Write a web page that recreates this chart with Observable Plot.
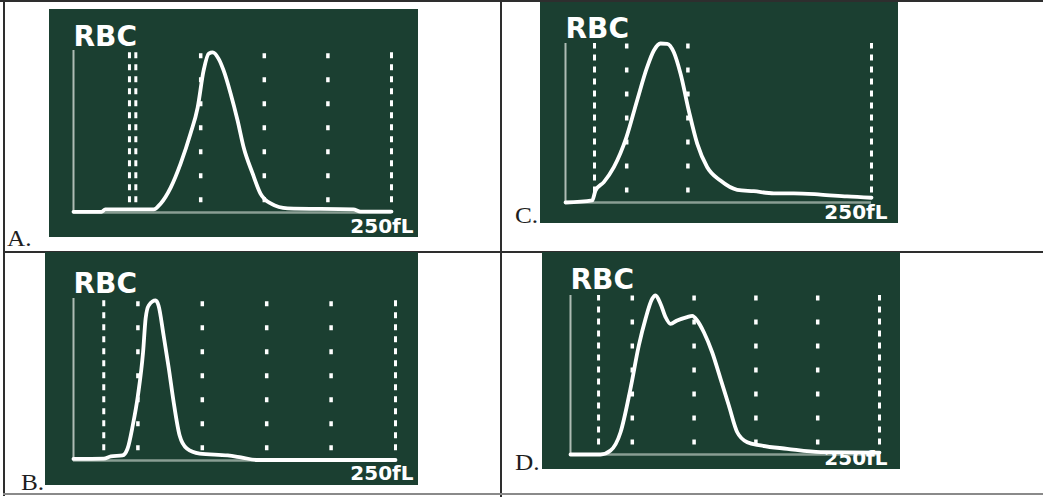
<!DOCTYPE html>
<html><head><meta charset="utf-8">
<script src="https://cdn.jsdelivr.net/npm/d3@7"></script>
<script src="https://cdn.jsdelivr.net/npm/@observablehq/plot@0.6"></script>
<style>
html,body{margin:0;padding:0;background:#fff;}
#page{position:relative;width:1043px;height:497px;overflow:hidden;background:#fff;}
.ln{position:absolute;background:#2e2e2e;}
.lab{position:absolute;font-family:"Liberation Serif","Times New Roman",serif;font-size:23px;color:#1e1e1e;line-height:23px;white-space:nowrap;transform-origin:left top;transform:scaleX(1.1);}
.panel{position:absolute;}
.panel svg{display:block;}
</style></head><body>
<div id="page">
  <div class="ln" style="left:0;top:0;width:1043px;height:2px;"></div>
  <div class="ln" style="left:3px;top:0;width:2px;height:496px;"></div>
  <div class="ln" style="left:500px;top:0;width:2px;height:497px;"></div>
  <div class="ln" style="left:3px;top:251px;width:1040px;height:2px;"></div>
  <div class="ln" style="left:3px;top:493px;width:1040px;height:2px;background:#8a8a8a;"></div>
  <div id="pA" class="panel" style="left:49px;top:9px;"></div>
  <div id="pB" class="panel" style="left:45px;top:252px;"></div>
  <div id="pC" class="panel" style="left:540px;top:2px;"></div>
  <div id="pD" class="panel" style="left:542px;top:252px;"></div>
  <div class="lab" style="left:7px;top:227px;">A.</div>
  <div class="lab" style="left:21px;top:471px;">B.</div>
  <div class="lab" style="left:515px;top:204px;">C.</div>
  <div class="lab" style="left:515px;top:451px;">D.</div>
</div>
<script>
// Panel labels / tick labels
const titleLabel = "RBC";
const axisEndLabel = "250fL";

// Panel A
const aVolume = [0, 22, 25, 63, 68.6, 76.4, 84.2, 92, 97.6, 102.3, 106.3, 109.4, 114, 118, 123.5, 129, 133.8, 140.8, 147, 155, 168.3, 220, 225.7, 250];
const aCount  = [0.4, 0.4, 1.9, 1.9, 5.6, 15.4, 30.2, 48.8, 64.8, 87.7, 98.1, 98.8, 95, 87.7, 73.5, 56.8, 40.1, 24.1, 11.7, 5.6, 2.5, 1.9, 0.6, 0.6];
const aDiscriminators = [44, 49, 250];
const aGrid = [100, 150, 200];

// Panel B
const bVolume = [0, 23.5, 29, 38, 42, 46, 50, 54, 56, 58.4, 63.8, 66, 70, 74, 77.8, 82.4, 88, 98, 119.7, 130, 143, 250];
const bCount  = [1, 1.2, 2.5, 3.1, 7.4, 21.6, 40, 66.7, 87.7, 95.7, 98.8, 95.7, 77, 56.8, 35.8, 15.4, 7.4, 4.3, 3.1, 1.9, 0.3, 0.3];
const bDiscriminators = [23.5, 250];
const bGrid = [50, 100, 150, 200];

// Panel C
const cVolume = [0, 21.8, 24.5, 31.3, 39.5, 49.8, 58.5, 66.7, 72.2, 77.6, 83.1, 88.5, 94, 100.7, 107.6, 115.8, 126.6, 140.3, 153.8, 170.2, 186.5, 208.3, 230, 250];
const cCount  = [0, 1.3, 7.5, 12.8, 22.2, 41.1, 64.2, 85.1, 95.6, 100, 99.8, 94.5, 81, 57.9, 37, 22.2, 13.8, 8, 7.1, 5.8, 5.8, 5, 3.8, 3];
const cDiscriminators = [23.7, 250];
const cGrid = [50, 100];

// Panel D
const dVolume = [0, 24.3, 32.4, 40.5, 48.5, 55.3, 60.7, 66.1, 68.8, 72.8, 76.9, 80.9, 86.3, 94.4, 98.5, 102.5, 107.9, 114.6, 121.4, 128.1, 134.9, 143, 153.7, 175.3, 202.3, 250];
const dCount  = [0, 0, 2.5, 14, 41.3, 68.6, 85.3, 97.9, 100, 94.8, 86.4, 82.2, 84.3, 86.4, 87.2, 84.3, 76.9, 64.3, 47.6, 30.8, 14, 7.7, 5.7, 3.6, 1.5, 1.2];
const dDiscriminators = [22.7, 250];
const dGrid = [50, 100, 150, 200];

const PANEL_BG = "#1b3f31";

function drawPanel(id, volume, count, disc, grid, lay) {
  const rows = volume.map((v, i) => ({v, c: count[i]}));
  const chart = Plot.plot({
    width: lay.w, height: lay.h,
    marginLeft: lay.ml, marginRight: lay.mr, marginTop: lay.mt, marginBottom: lay.mb,
    x: {domain: [0, 250], axis: null},
    y: {domain: [0, 100], axis: null},
    style: {background: PANEL_BG, overflow: "hidden"},
    marks: [
      Plot.ruleX(grid, {y1: 6, y2: 100, stroke: "white", strokeWidth: 3.5, strokeDasharray: "5,19"}),
      Plot.ruleX(disc, {y1: 6, y2: 100, stroke: "white", strokeWidth: 3, strokeDasharray: "6,6"}),
      Plot.ruleX([0], {y1: 0, y2: 100, stroke: "#aebcb4", strokeWidth: 2}),
      Plot.ruleY([0], {x1: 0, x2: 250, stroke: "#8a9e93", strokeWidth: 2.5}),
      Plot.line(rows, {x: "v", y: "c", stroke: "white", strokeWidth: 3.8, curve: "monotone-x", strokeLinejoin: "round", strokeLinecap: "round"}),
      Plot.text([titleLabel], {frameAnchor: "top-left", textAnchor: "start", lineAnchor: "bottom",
        dy: lay.tdy, fill: "white", fontSize: 28, fontWeight: "bold", fontFamily: "DejaVu Sans"}),
      Plot.text([axisEndLabel], {frameAnchor: "bottom-right", textAnchor: "end", lineAnchor: "bottom",
        dx: lay.edx, dy: lay.edy, fill: "white", fontSize: 20, fontWeight: "bold", fontFamily: "DejaVu Sans"})
    ]
  });
  document.getElementById(id).appendChild(chart);
}

drawPanel("pA", aVolume, aCount, aDiscriminators, aGrid, {w: 369, h: 228, ml: 24, mr: 27, mt: 41, mb: 25, tdy: -5, edx: 22, edy: 20});
drawPanel("pB", bVolume, bCount, bDiscriminators, bGrid, {w: 373, h: 233, ml: 28, mr: 23, mt: 46, mb: 25, tdy: -6, edx: 18, edy: 19});
drawPanel("pC", cVolume, cCount, cDiscriminators, cGrid, {w: 358, h: 221, ml: 25, mr: 27, mt: 41, mb: 21, tdy: -6, edx: 16, edy: 16});
drawPanel("pD", dVolume, dCount, dDiscriminators, dGrid, {w: 358, h: 217, ml: 28, mr: 21, mt: 43, mb: 15, tdy: -7, edx: 8, edy: 10});
</script>
</body></html>
